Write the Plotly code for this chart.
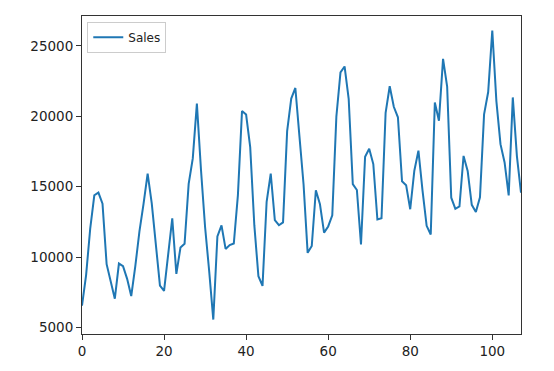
import plotly.graph_objects as go

months = list(range(108))
sales = [
    6550, 8728, 12026, 14395, 14587, 13791, 9498, 8251, 7049, 9545, 9364, 8456,
    7237, 9374, 11837, 13784, 15926, 13821, 11143, 7975, 7610, 10015, 12759, 8816,
    10677, 10947, 15200, 17010, 20900, 16205, 12143, 8997, 5568, 11474, 12256, 10583,
    10862, 10965, 14405, 20379, 20128, 17816, 12268, 8642, 7962, 13932, 15936, 12628,
    12267, 12470, 18944, 21259, 22015, 18581, 15175, 10306, 10792, 14752, 13754, 11738,
    12181, 12965, 19990, 23125, 23541, 21247, 15189, 14767, 10895, 17130, 17697, 16611,
    12674, 12760, 20249, 22135, 20677, 19933, 15388, 15113, 13401, 16135, 17562, 14720,
    12225, 11608, 20985, 19692, 24081, 22114, 14220, 13434, 13598, 17187, 16119, 13713,
    13210, 14251, 20139, 21725, 26099, 21084, 18024, 16722, 14385, 21342, 17180, 14577,
]
x_ticks = [0, 20, 40, 60, 80, 100]
y_ticks = [5000, 10000, 15000, 20000, 25000]

fig = go.Figure()
fig.add_trace(go.Scatter(x=months, y=sales, mode="lines", name="Sales",
                         line=dict(color="#1f77b4", width=2)))

ymin, ymax = min(sales), max(sales)
pad = (ymax - ymin) * 0.05
axis_common = dict(showgrid=False, zeroline=False, showline=True, linecolor="#333333",
                   linewidth=1, mirror=True, ticks="outside", ticklen=5, tickwidth=1,
                   tickcolor="#333333", tickfont=dict(size=13.5, color="#222222"))
fig.update_layout(
    width=554, height=371,
    margin=dict(l=82, r=33, t=16, b=28),
    paper_bgcolor="white", plot_bgcolor="white",
    font=dict(family="DejaVu Sans", size=13.5, color="#222222"),
    xaxis=dict(range=[0, 107], tickvals=x_ticks, ticktext=[str(v) for v in x_ticks], **axis_common),
    yaxis=dict(range=[ymin - pad, ymax + pad], tickvals=y_ticks, ticktext=[str(v) for v in y_ticks], **axis_common),
    showlegend=True,
    legend=dict(x=0.012, y=0.982, xanchor="left", yanchor="top",
                bordercolor="#cccccc", borderwidth=1, bgcolor="rgba(255,255,255,0.8)",
                font=dict(size=12), itemwidth=30, tracegroupgap=0),
)
fig.write_html("out.html")
